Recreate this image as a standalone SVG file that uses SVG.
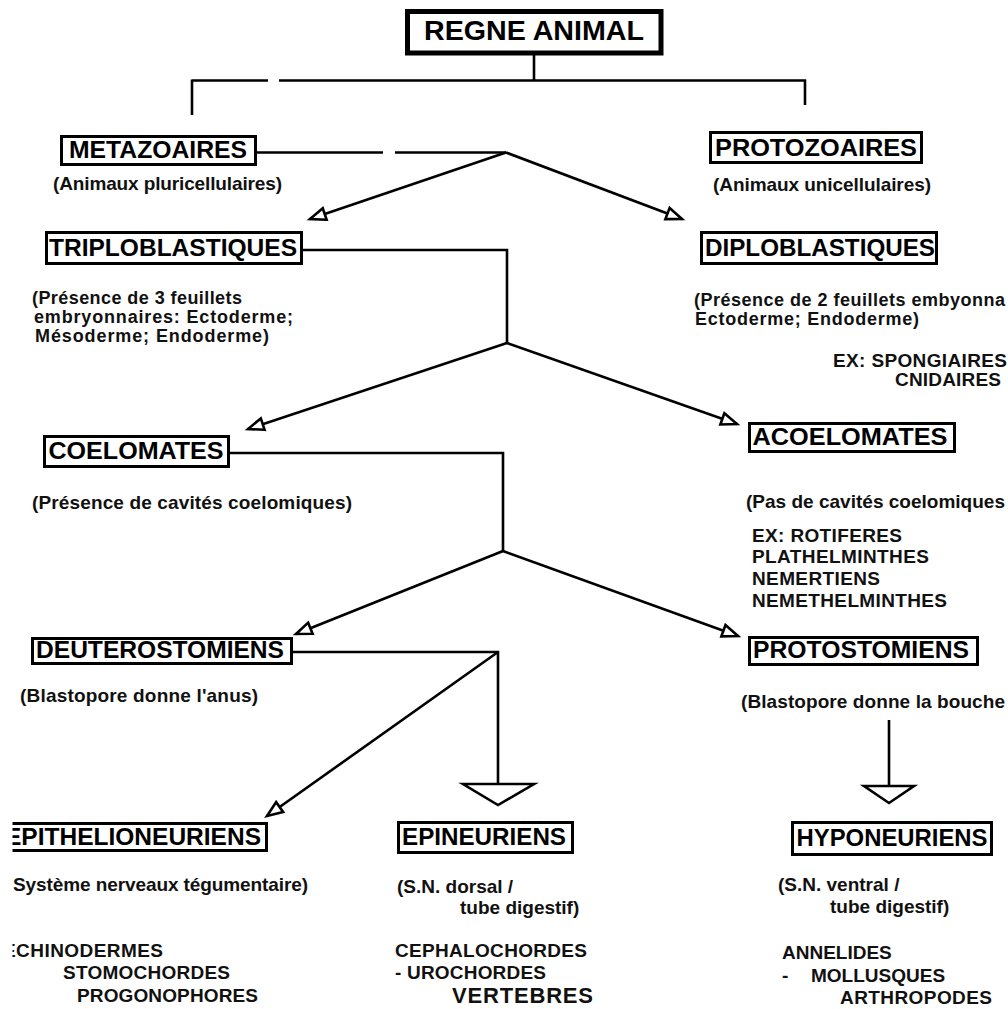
<svg xmlns="http://www.w3.org/2000/svg" width="1008" height="1009" viewBox="0 0 1008 1009">
<style>
 .box{fill:#fff;stroke:#000;stroke-width:3}
 .t{font-family:"Liberation Sans",Arial,sans-serif;font-weight:bold;font-size:24.5px;fill:#000;text-anchor:middle}
 .s{font-family:"Liberation Sans",Arial,sans-serif;font-weight:bold;font-size:19px;fill:#111}
 .n{font-size:18px}
 .c{fill:none;stroke:#000;stroke-width:2.6}
 .h{fill:#fff;stroke:#000;stroke-width:2.6}
</style>
<defs>
 <marker id="arr" viewBox="0 0 18 16" markerWidth="18" markerHeight="16" refX="17" refY="8" orient="auto" markerUnits="userSpaceOnUse" overflow="visible">
  <path d="M1.5,2 L17,8 L1.5,14 Z" fill="#fff" stroke="#000" stroke-width="2.6"/>
 </marker>
 <clipPath id="clipL"><rect x="12.5" y="0" width="996" height="1009"/></clipPath>
</defs>
<rect width="1008" height="1009" fill="#fff"/>
<g id="connectors">
 <path class="c" d="M534 53V80.5M192 80.5H268M279 80.5H806M192 79.5V115M805 79.5V105"/>
 <path class="c" d="M257 152.5H383M395 152.5H506"/>
 <path class="c" d="M506 152.5L310 219" marker-end="url(#arr)"/>
 <path class="c" d="M506 152.5L682 219" marker-end="url(#arr)"/>
 <path class="c" d="M303 250H507V343"/>
 <path class="c" d="M507 343L248 429" marker-end="url(#arr)"/>
 <path class="c" d="M507 343L737 424" marker-end="url(#arr)"/>
 <path class="c" d="M230 453H503V551"/>
 <path class="c" d="M503 551L296 634" marker-end="url(#arr)"/>
 <path class="c" d="M503 551L738 636" marker-end="url(#arr)"/>
 <path class="c" d="M293 652H498V784"/>
 <path class="c" d="M498 652L267 816" marker-end="url(#arr)"/>
 <path class="h" d="M463 784H534L498 805Z"/>
 <path class="c" d="M889 720V786"/>
 <path class="h" d="M864 786H914L889 803Z"/>
</g>
<g id="regne-animal">
 <rect class="box" x="407.5" y="11.5" width="253.5" height="41.5" style="stroke-width:5"/>
 <text class="t" x="534" y="40" style="font-size:27.5px" textLength="220" lengthAdjust="spacingAndGlyphs">REGNE ANIMAL</text>
</g>
<g id="metazoaires">
 <rect class="box" x="61.5" y="136.5" width="194" height="28"/>
 <text class="t" x="158" y="158" textLength="178" lengthAdjust="spacingAndGlyphs">METAZOAIRES</text>
 <text class="s" x="53" y="190" textLength="229">(Animaux pluricellulaires)</text>
</g>
<g id="protozoaires">
 <rect class="box" x="710.5" y="132.5" width="211" height="30"/>
 <text class="t" x="816" y="156" textLength="202" lengthAdjust="spacingAndGlyphs">PROTOZOAIRES</text>
 <text class="s" x="713" y="191" textLength="218">(Animaux unicellulaires)</text>
</g>
<g id="triploblastiques">
 <rect class="box" x="46.5" y="232.5" width="255" height="31"/>
 <text class="t" x="173" y="256" textLength="248" lengthAdjust="spacingAndGlyphs">TRIPLOBLASTIQUES</text>
 <text class="s n" x="32" y="304" textLength="210">(Présence de 3 feuillets</text>
 <text class="s n" x="34" y="323" textLength="259">embryonnaires: Ectoderme;</text>
 <text class="s n" x="35" y="342" textLength="234">Mésoderme; Endoderme)</text>
</g>
<g id="diploblastiques">
 <rect class="box" x="701.5" y="232.5" width="235" height="31"/>
 <text class="t" x="820" y="256" textLength="230" lengthAdjust="spacingAndGlyphs">DIPLOBLASTIQUES</text>
 <text class="s n" x="694" y="306" textLength="311">(Présence de 2 feuillets embyonna</text>
 <text class="s n" x="695" y="325" textLength="224">Ectoderme; Endoderme)</text>
 <text class="s" x="833" y="367" textLength="174">EX: SPONGIAIRES</text>
 <text class="s" x="895" y="386" textLength="106">CNIDAIRES</text>
</g>
<g id="coelomates">
 <rect class="box" x="44.5" y="436.5" width="184" height="30"/>
 <text class="t" x="136" y="459" textLength="175" lengthAdjust="spacingAndGlyphs">COELOMATES</text>
 <text class="s" x="32" y="509" textLength="320">(Présence de cavités coelomiques)</text>
</g>
<g id="acoelomates">
 <rect class="box" x="749.5" y="423.5" width="205" height="28"/>
 <text class="t" x="850" y="445" textLength="195" lengthAdjust="spacingAndGlyphs">ACOELOMATES</text>
 <text class="s" x="746" y="508" textLength="259">(Pas de cavités coelomiques</text>
 <text class="s" x="752" y="542" textLength="150">EX: ROTIFERES</text>
 <text class="s" x="752" y="563" textLength="177">PLATHELMINTHES</text>
 <text class="s" x="752" y="585" textLength="128">NEMERTIENS</text>
 <text class="s" x="752" y="607" textLength="195">NEMETHELMINTHES</text>
</g>
<g id="deuterostomiens">
 <rect class="box" x="32.5" y="638.5" width="259" height="25"/>
 <text class="t" x="160" y="658" textLength="248" lengthAdjust="spacingAndGlyphs">DEUTEROSTOMIENS</text>
 <text class="s" x="20" y="702" textLength="238">(Blastopore donne l'anus)</text>
</g>
<g id="protostomiens">
 <rect class="box" x="749.5" y="637.5" width="228" height="27"/>
 <text class="t" x="861" y="658" textLength="216" lengthAdjust="spacingAndGlyphs">PROTOSTOMIENS</text>
 <text class="s" x="741" y="708" textLength="264">(Blastopore donne la bouche</text>
</g>
<g id="epithelioneuriens" clip-path="url(#clipL)">
 <rect class="box" x="1.5" y="823.5" width="265" height="27"/>
 <text class="t" x="5" y="845" style="text-anchor:start" textLength="256" lengthAdjust="spacingAndGlyphs">EPITHELIONEURIENS</text>
 <text class="s" x="13" y="891" textLength="295">Système nerveaux tégumentaire)</text>
 <text class="s" x="3" y="957" textLength="160">ECHINODERMES</text>
 <text class="s" x="63" y="979" textLength="167">STOMOCHORDES</text>
 <text class="s" x="77" y="1002" textLength="181">PROGONOPHORES</text>
</g>
<g id="epineuriens">
 <rect class="box" x="398.5" y="822.5" width="174" height="30"/>
 <text class="t" x="484" y="845" textLength="164" lengthAdjust="spacingAndGlyphs">EPINEURIENS</text>
 <text class="s" x="397" y="893">(S.N. dorsal /</text>
 <text class="s" x="460" y="914">tube digestif)</text>
 <text class="s" x="395" y="957" textLength="192">CEPHALOCHORDES</text>
 <text class="s" x="395" y="979" textLength="151">- UROCHORDES</text>
 <text class="s" x="452" y="1003" style="font-size:22px" textLength="141">VERTEBRES</text>
</g>
<g id="hyponeuriens">
 <rect class="box" x="792.5" y="822.5" width="199" height="32"/>
 <text class="t" x="892" y="846" textLength="191" lengthAdjust="spacingAndGlyphs">HYPONEURIENS</text>
 <text class="s" x="778" y="891">(S.N. ventral /</text>
 <text class="s" x="830" y="913">tube digestif)</text>
 <text class="s" x="782" y="959">ANNELIDES</text>
 <text class="s" x="782" y="982">- <tspan x="811">MOLLUSQUES</tspan></text>
 <text class="s" x="840" y="1004" textLength="152">ARTHROPODES</text>
</g>
</svg>
